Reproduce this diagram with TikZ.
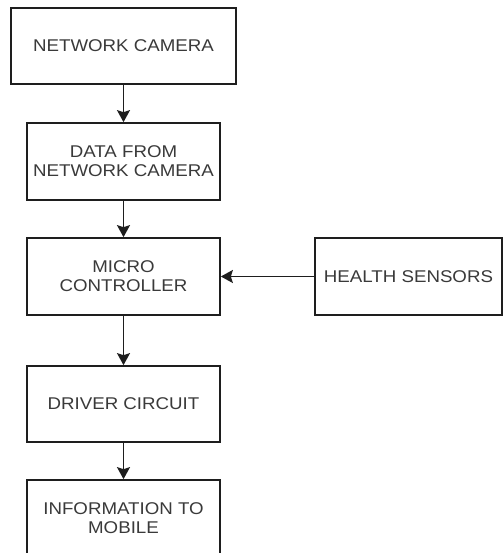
\documentclass[tikz,border=0pt]{standalone}
\usepackage{fontspec}
\setmainfont{Liberation Sans}[FakeStretch=1.1]
\usepackage{xcolor}
\usetikzlibrary{arrows.meta}
\definecolor{boxLine}{HTML}{1E1E1E}
\definecolor{boxText}{HTML}{3A3A3A}

\begin{document}
\begin{tikzpicture}[x=1pt, y=-1pt,
    block/.style={draw=boxLine, line width=1.7pt, fill=white, align=center,
        text=boxText, inner sep=0pt, font=\fontsize{17}{19}\selectfont},
    flow/.style={-{Stealth[length=12pt, width=13pt, inset=2pt]}, line width=1.7pt, draw=boxLine}]
    \useasboundingbox (0,0) rectangle (503,553);
    \clip (0,0) rectangle (503,553);

    \node[block, minimum width=225pt, minimum height=76pt] (cam) at (123.5,46) {NETWORK CAMERA};
    \node[block, minimum width=193pt, minimum height=77pt] (data) at (123.5,161.5) {DATA FROM\\NETWORK CAMERA};
    \node[block, minimum width=193pt, minimum height=77pt] (mcu) at (123.5,276.5) {MICRO\\CONTROLLER};
    \node[block, minimum width=193pt, minimum height=76pt] (drv) at (123.5,404) {DRIVER CIRCUIT};
    \node[block, minimum width=193pt, minimum height=77pt] (info) at (123.5,518.5) {INFORMATION TO\\MOBILE};
    \node[block, minimum width=187pt, minimum height=77pt] (health) at (408.5,276.5) {HEALTH SENSORS};

    \draw[flow] (cam) -- (data);
    \draw[flow] (data) -- (mcu);
    \draw[flow] (mcu) -- (drv);
    \draw[flow] (drv) -- (info);
    \draw[flow] (health) -- (mcu);
\end{tikzpicture}
\end{document}
